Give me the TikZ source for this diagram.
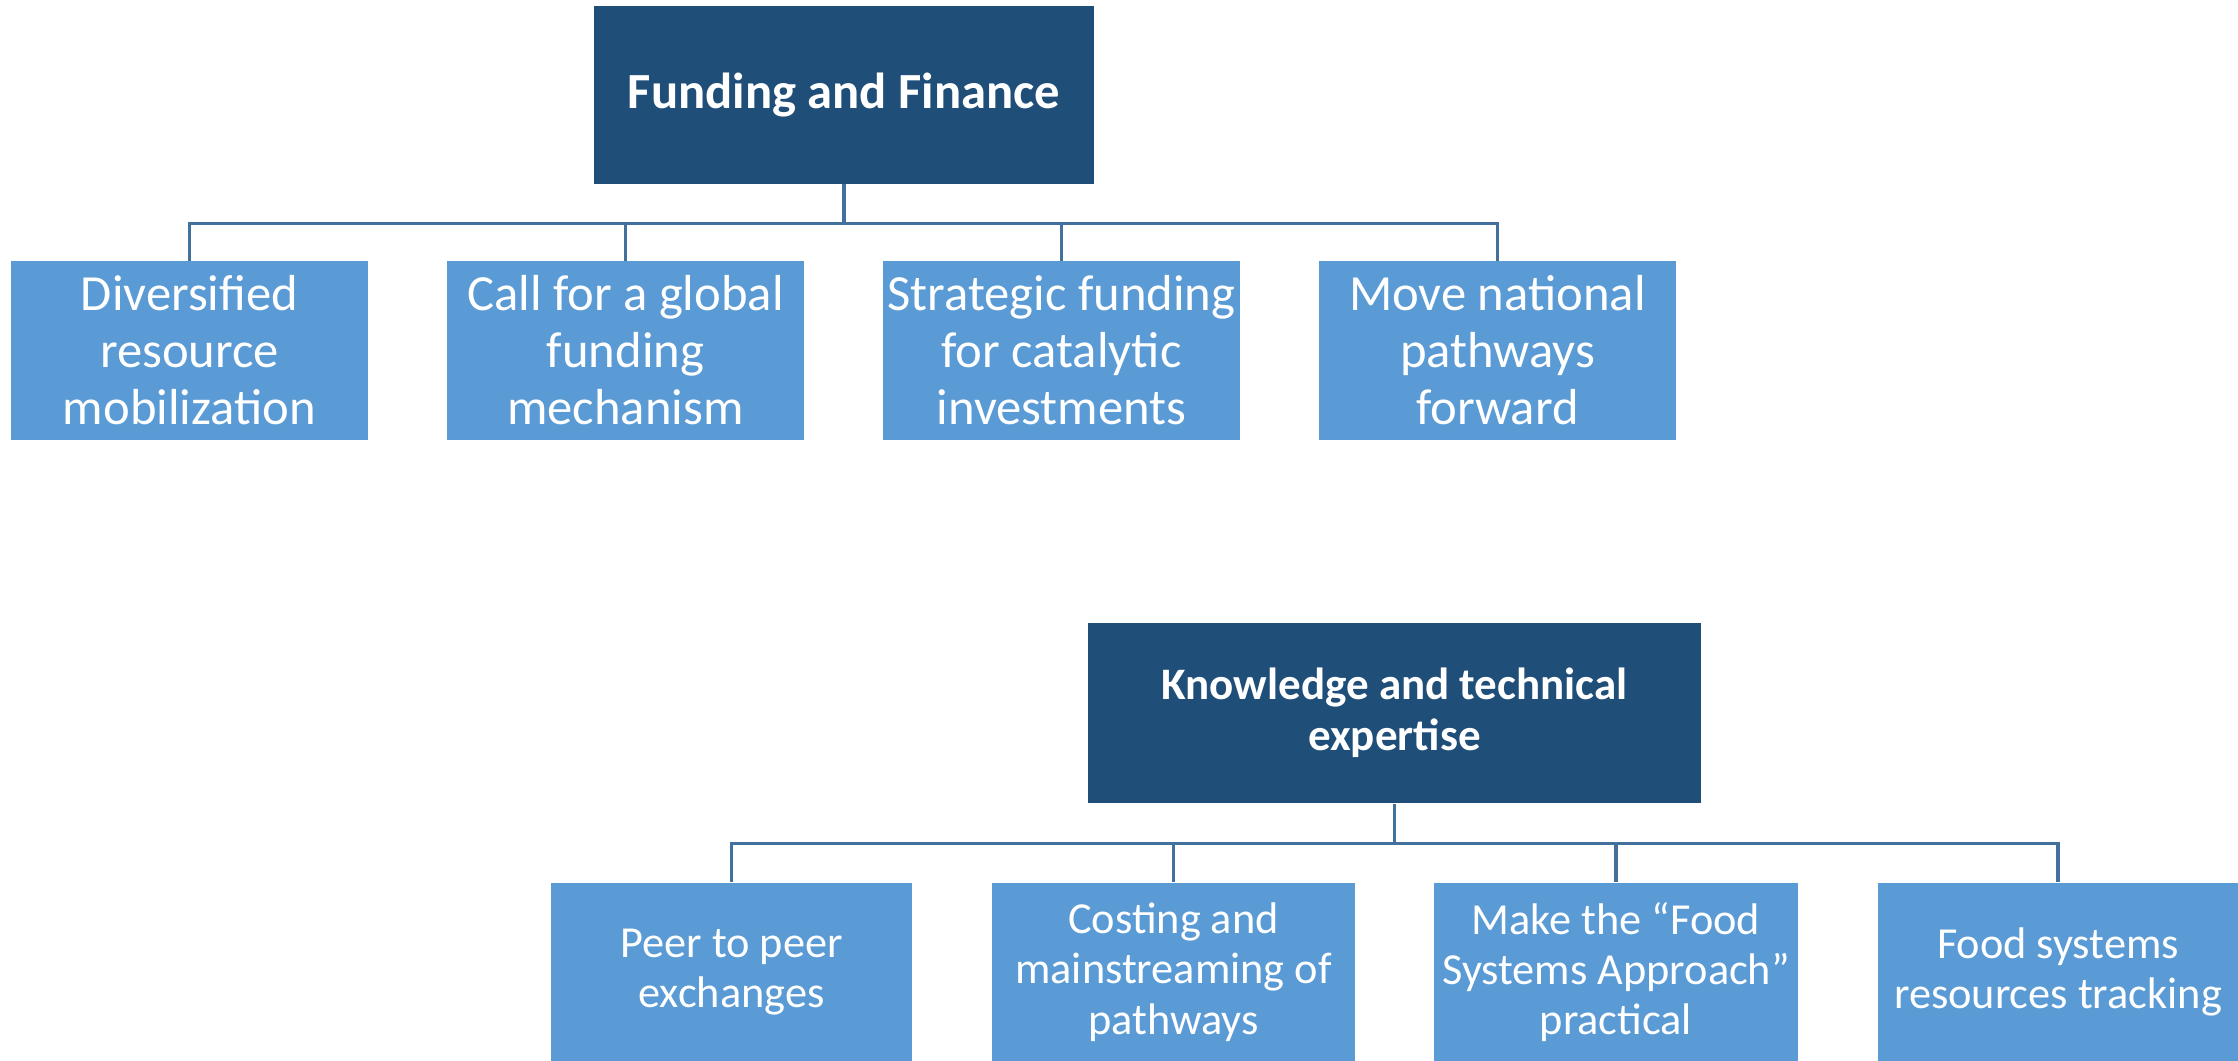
\documentclass[tikz,border=0pt]{standalone}
\usepackage{fontspec}
\setmainfont{Carlito}
\usepackage{xcolor}
\definecolor{darkblue}{HTML}{1F4E79}
\definecolor{lightblue}{HTML}{5B9BD5}
\definecolor{linkblue}{HTML}{41719C}

\begin{document}
\begin{tikzpicture}[x=0.01cm, y=-0.01cm,
    headbox/.style={fill=darkblue, text=white, align=center, inner sep=0pt,
        font=\bfseries\fontsize{14.4}{16.5}\selectfont},
    itembox/.style={fill=lightblue, text=white, align=center, inner sep=0pt,
        minimum width=3.6cm, minimum height=1.78cm},
    conn/.style={draw=linkblue, line width=0.9pt}]
    \useasboundingbox (0,0) rectangle (2238,1061);

    % Funding and Finance
    \node[headbox, minimum width=5cm, minimum height=1.77cm] (fin) at (844,95) {Funding and Finance};
    \begin{scope}[every node/.append style={font=\fontsize{14.4}{16.2}\selectfont}]
        \node[itembox, minimum width=3.57cm] (fin1) at (189.5,350.5) {Diversified\\resource\\mobilization};
        \node[itembox, minimum width=3.57cm] (fin2) at (625.5,350.5) {Call for a global\\funding\\mechanism};
        \node[itembox, minimum width=3.57cm] (fin3) at (1061.5,350.5) {Strategic funding\\for catalytic\\investments};
        \node[itembox, minimum width=3.57cm] (fin4) at (1497.5,350.5) {Move national\\pathways\\forward};
    \end{scope}
    \foreach \i in {1,...,4}
        \draw[conn] (fin.south) -- ++(0,39) -| (fin\i.north);

    % Knowledge and technical expertise
    \node[headbox, font=\bfseries\fontsize{12.8}{14.5}\selectfont, minimum width=6.13cm, minimum height=1.8cm] (know) at (1394.5,713) {Knowledge and technical\\expertise};
    \begin{scope}[every node/.append style={font=\fontsize{12.6}{14.3}\selectfont}]
        \node[itembox, minimum width=3.61cm] (know1) at (731.5,972) {Peer to peer\\exchanges};
        \node[itembox, minimum width=3.63cm] (know2) at (1173.5,972) {Costing and\\mainstreaming of\\pathways};
        \node[itembox, minimum width=3.64cm] (know3) at (1616,972) {Make the “Food\\Systems Approach”\\practical};
        \node[itembox, minimum width=3.6cm] (know4) at (2058,972) {Food systems\\resources tracking};
    \end{scope}
    \foreach \i in {1,...,4}
        \draw[conn] (know.south) -- ++(0,40) -| (know\i.north);
\end{tikzpicture}
\end{document}
